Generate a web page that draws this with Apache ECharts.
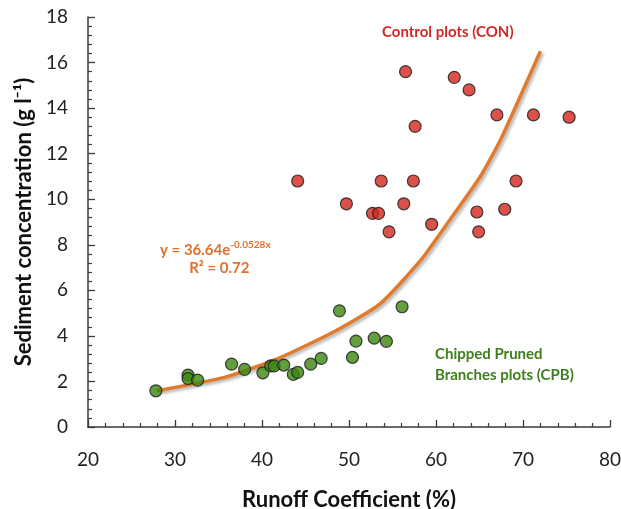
<!DOCTYPE html>
<html>
<head>
<meta charset="utf-8">
<script src="https://cdn.jsdelivr.net/npm/echarts@6/dist/echarts.min.js"></script>
<style>
  html, body { margin: 0; padding: 0; background: #fff; }
  #main { width: 621px; height: 509px; }
</style>
</head>
<body>
<div id="main"></div>
<script>
// control plots (CON) - [runoff coefficient %, sediment g/l]
var conPoints = [
  [56.5, 15.6], [62.1, 15.35], [63.8, 14.8], [67.0, 13.7], [71.2, 13.7],
  [75.3, 13.6], [57.6, 13.2], [44.1, 10.8], [53.7, 10.8], [57.4, 10.8],
  [69.2, 10.8], [49.7, 9.8], [52.7, 9.38], [53.4, 9.38], [56.3, 9.8],
  [64.7, 9.44], [67.9, 9.56], [59.5, 8.9], [54.6, 8.57], [64.9, 8.57]
];

// chipped pruned branches plots (CPB)
var cpbPoints = [
  [27.8, 1.59], [31.5, 2.28], [31.5, 2.13], [32.6, 2.06], [36.5, 2.76],
  [38.0, 2.53], [40.1, 2.38], [41.0, 2.68], [41.4, 2.68], [42.5, 2.72],
  [43.6, 2.31], [44.1, 2.40], [45.6, 2.76], [46.8, 3.01], [48.9, 5.1],
  [50.4, 3.06], [50.8, 3.77], [52.9, 3.9], [54.3, 3.76], [56.1, 5.28]
];

// trend line
var trendPoints = [
  [27.9, 1.59], [35.9, 2.2], [42.1, 3.05], [48.6, 4.25], [53.6, 5.42],
  [58.2, 7.3], [61.6, 9.1], [65.1, 11.0], [67.4, 12.6], [72.0, 16.5]
];

var xTicks = [20, 80, 10];
var yTicks = [0, 18, 2];

var chart = echarts.init(document.getElementById('main'));
var font = 'Lato, "Open Sans", sans-serif';

chart.setOption({
  animation: false,
  backgroundColor: '#fff',
  grid: { left: 88, right: 11, top: 17, bottom: 82, outerBoundsMode: 'none', containLabel: false },
  xAxis: {
    type: 'value',
    min: xTicks[0], max: xTicks[1], interval: xTicks[2],
    splitLine: { show: false },
    axisLine: { lineStyle: { color: '#3a3a3a', width: 1.5 } },
    axisTick: { inside: true, length: 7, lineStyle: { color: '#3a3a3a', width: 1.3 } },
    minorTick: { show: true, splitNumber: 5, length: 4, lineStyle: { color: '#3a3a3a', width: 1.2 } },
    axisLabel: { color: '#222', fontSize: 19, fontFamily: font, margin: 23 },
    name: 'Runoff Coefficient (%)',
    nameLocation: 'middle',
    nameGap: 62,
    nameTextStyle: { color: '#111', fontSize: 22, fontWeight: 'bold', fontFamily: font }
  },
  yAxis: {
    type: 'value',
    min: yTicks[0], max: yTicks[1], interval: yTicks[2],
    splitLine: { show: false },
    axisLine: { show: true, lineStyle: { color: '#3a3a3a', width: 1.5 } },
    axisTick: { show: true, inside: true, length: 7, lineStyle: { color: '#3a3a3a', width: 1.3 } },
    minorTick: { show: true, splitNumber: 5, length: 4, lineStyle: { color: '#3a3a3a', width: 1.2 } },
    axisLabel: { color: '#222', fontSize: 19, fontFamily: font, margin: 20 },
    name: 'Sediment concentration (g l⁻¹)',
    nameLocation: 'middle',
    nameGap: 51,
    nameTextStyle: { color: '#111', fontSize: 22, fontWeight: 'bold', fontFamily: font }
  },
  series: [
    {
      name: 'trend',
      type: 'line',
      data: trendPoints,
      showSymbol: false,
      smooth: 0.2,
      z: 1,
      lineStyle: {
        color: '#E27A2C', width: 3.5,
        shadowColor: 'rgba(0,0,0,0.3)', shadowBlur: 3, shadowOffsetX: 2, shadowOffsetY: 2
      }
    },
    {
      name: 'CON',
      type: 'scatter',
      data: conPoints,
      symbolSize: 12,
      z: 3,
      itemStyle: { color: '#D3261B', borderColor: '#1a1a1a', borderWidth: 1.2 }
    },
    {
      name: 'CPB',
      type: 'scatter',
      data: cpbPoints,
      symbolSize: 12,
      z: 3,
      itemStyle: { color: '#3C860F', borderColor: '#1a1a1a', borderWidth: 1.2 }
    }
  ],
  graphic: [
    {
      type: 'text', left: 382, top: 25,
      style: { text: 'Control plots (CON)', fill: '#D02A24', font: 'bold 15px ' + font }
    },
    {
      type: 'text', left: 435, top: 344,
      style: {
        text: 'Chipped Pruned\nBranches plots (CPB)', fill: '#3E7E1D',
        font: 'bold 15px ' + font, align: 'center', lineHeight: 21, width: 156
      }
    },
    {
      type: 'text', left: 160, top: 240,
      style: {
        text: '{b|y = 36.64e}{s|-0.0528x}\n{r|        R² = 0.72}',
        fill: '#E0702C',
        rich: {
          b: { fontSize: 15, fontWeight: 'bold', fontFamily: font, fill: '#E0702C', verticalAlign: 'bottom' },
          s: { fontSize: 10, fontWeight: 'bold', fontFamily: font, fill: '#E0702C', verticalAlign: 'top', padding: [0, 0, 8, 0] },
          r: { fontSize: 15, fontWeight: 'bold', fontFamily: font, fill: '#E0702C', lineHeight: 20 }
        }
      }
    }
  ]
});
</script>
</body>
</html>
